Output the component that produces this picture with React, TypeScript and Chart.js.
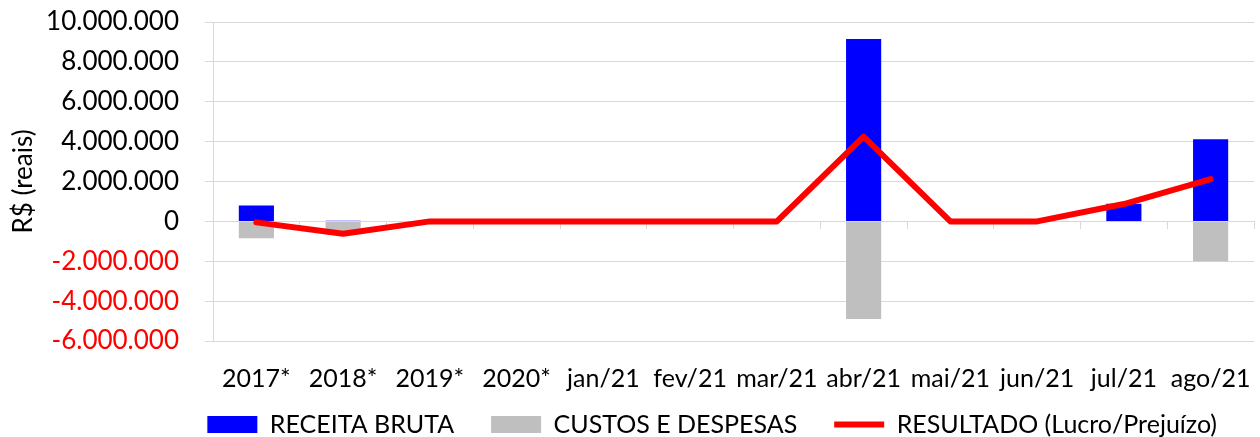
import React, { useEffect, useRef } from 'react';
import { Chart, registerables } from 'chart.js';

Chart.register(...registerables);

const categories = ['2017*', '2018*', '2019*', '2020*', 'jan/21', 'fev/21', 'mar/21', 'abr/21', 'mai/21', 'jun/21', 'jul/21', 'ago/21'];
const receitaBruta = [800000, 30000, 0, 0, 0, 0, 0, 9150000, 0, 0, 880000, 4120000];
const custosDespesas = [-850000, -650000, 0, 0, 0, 0, 0, -4900000, 0, 0, -10000, -2000000];
const resultado = [-50000, -620000, 0, 0, 0, 0, 0, 4250000, 0, 0, 870000, 2120000];
const yMin = -6000000;
const yMax = 10000000;
const yStep = 2000000;

const FONT = 'Lato, "Open Sans", sans-serif';
const GRID = '#d9d9d9';

function fmt(v: number): string {
  const s = Math.abs(Math.round(v)).toString().replace(/\B(?=(\d{3})+(?!\d))/g, '.');
  return (v < 0 ? '-' : '') + s;
}

const legendFitPlugin = {
  id: 'legendFit',
  beforeLayout(chart: any) {
    const lg = chart.legend;
    if (lg && !lg._patched) {
      const orig = lg.fit.bind(lg);
      lg.fit = function () {
        orig();
        this.height = 62;
      };
      lg._patched = true;
    }
  },
};

export default function App() {
  const ref = useRef<HTMLCanvasElement>(null);
  useEffect(() => {
    if (!ref.current) return;
    const chart = new Chart(ref.current, {
      type: 'bar',
      data: {
        labels: categories,
        datasets: [
          {
            type: 'line',
            label: 'RESULTADO (Lucro/Prejuízo)',
            data: resultado,
            borderColor: '#ff0000',
            backgroundColor: '#ff0000',
            borderWidth: 6,
            pointRadius: 0,
            pointHoverRadius: 0,
            pointStyle: 'line',
            tension: 0,
            borderCapStyle: 'round',
            borderJoinStyle: 'round',
            order: 0,
          } as any,
          {
            type: 'bar',
            label: 'RECEITA BRUTA',
            data: receitaBruta,
            backgroundColor: '#0000ff',
            borderWidth: 0,
            pointStyle: 'rect',
            order: 1,
          } as any,
          {
            type: 'bar',
            label: 'CUSTOS E DESPESAS',
            data: custosDespesas,
            backgroundColor: '#bfbfbf',
            borderWidth: 0,
            pointStyle: 'rect',
            order: 2,
          } as any,
        ],
      },
      options: {
        responsive: true,
        maintainAspectRatio: false,
        animation: false,
        layout: { padding: { top: 22, right: 6, left: 0, bottom: 0 } },
        datasets: {
          bar: { categoryPercentage: 1, barPercentage: 0.405 },
        } as any,
        plugins: {
          tooltip: { enabled: false },
          legend: {
            position: 'bottom',
            align: 'end',
            labels: {
              usePointStyle: true,
              pointStyleWidth: 50,
              boxHeight: 17,
              padding: 37,
              color: '#000',
              font: { family: FONT, size: 25 },
              sort: (a: any, b: any) => {
                const order = ['RECEITA BRUTA', 'CUSTOS E DESPESAS', 'RESULTADO (Lucro/Prejuízo)'];
                return order.indexOf(a.text) - order.indexOf(b.text);
              },
            },
          },
        },
        scales: {
          x: {
            type: 'category',
            position: 'bottom',
            stacked: true,
            offset: true,
            grid: { display: false, drawTicks: false },
            border: { display: false },
            ticks: { color: '#000', font: { family: FONT, size: 25 }, padding: 23, maxRotation: 0, autoSkip: false },
            afterFit: (s: any) => {
              s.height = 34;
              s.paddingLeft = 0;
              s.paddingRight = 0;
              s._computeLabelArea = () => undefined;
            },
          } as any,
          x2: {
            type: 'category',
            labels: categories,
            position: { y: 0 } as any,
            offset: true,
            grid: { offset: true, drawOnChartArea: false, drawTicks: true, tickLength: 8, color: GRID },
            border: { display: false },
            ticks: { display: false },
            afterFit: (s: any) => { s.height = 0; s.paddingLeft = 0; s.paddingRight = 0; },
          } as any,
          y: {
            type: 'linear',
            stacked: false,
            min: yMin,
            max: yMax,
            grid: { color: GRID, lineWidth: 1, drawTicks: true, tickLength: 8 },
            border: { display: true, color: GRID },
            ticks: {
              stepSize: yStep,
              padding: 26,
              font: { family: FONT, size: 26 },
              color: (ctx: any) => (ctx.tick && ctx.tick.value < 0 ? '#ff0000' : '#000000'),
              callback: (v: any) => fmt(Number(v)),
            },
            title: {
              display: true,
              text: 'R$ (reais)',
              color: '#000',
              font: { family: FONT, size: 26 },
              padding: { top: 8, bottom: 0 },
            },
            afterFit: (s: any) => { s.width = 213; s.paddingTop = 0; s.paddingBottom = 0; },
          } as any,
        },
      },
      plugins: [legendFitPlugin],
    });
    return () => chart.destroy();
  }, []);
  return (
    <div style={{ position: 'fixed', left: 0, top: 0, width: 1260, height: 437, background: '#fff' }}>
      <canvas ref={ref} />
    </div>
  );
}
